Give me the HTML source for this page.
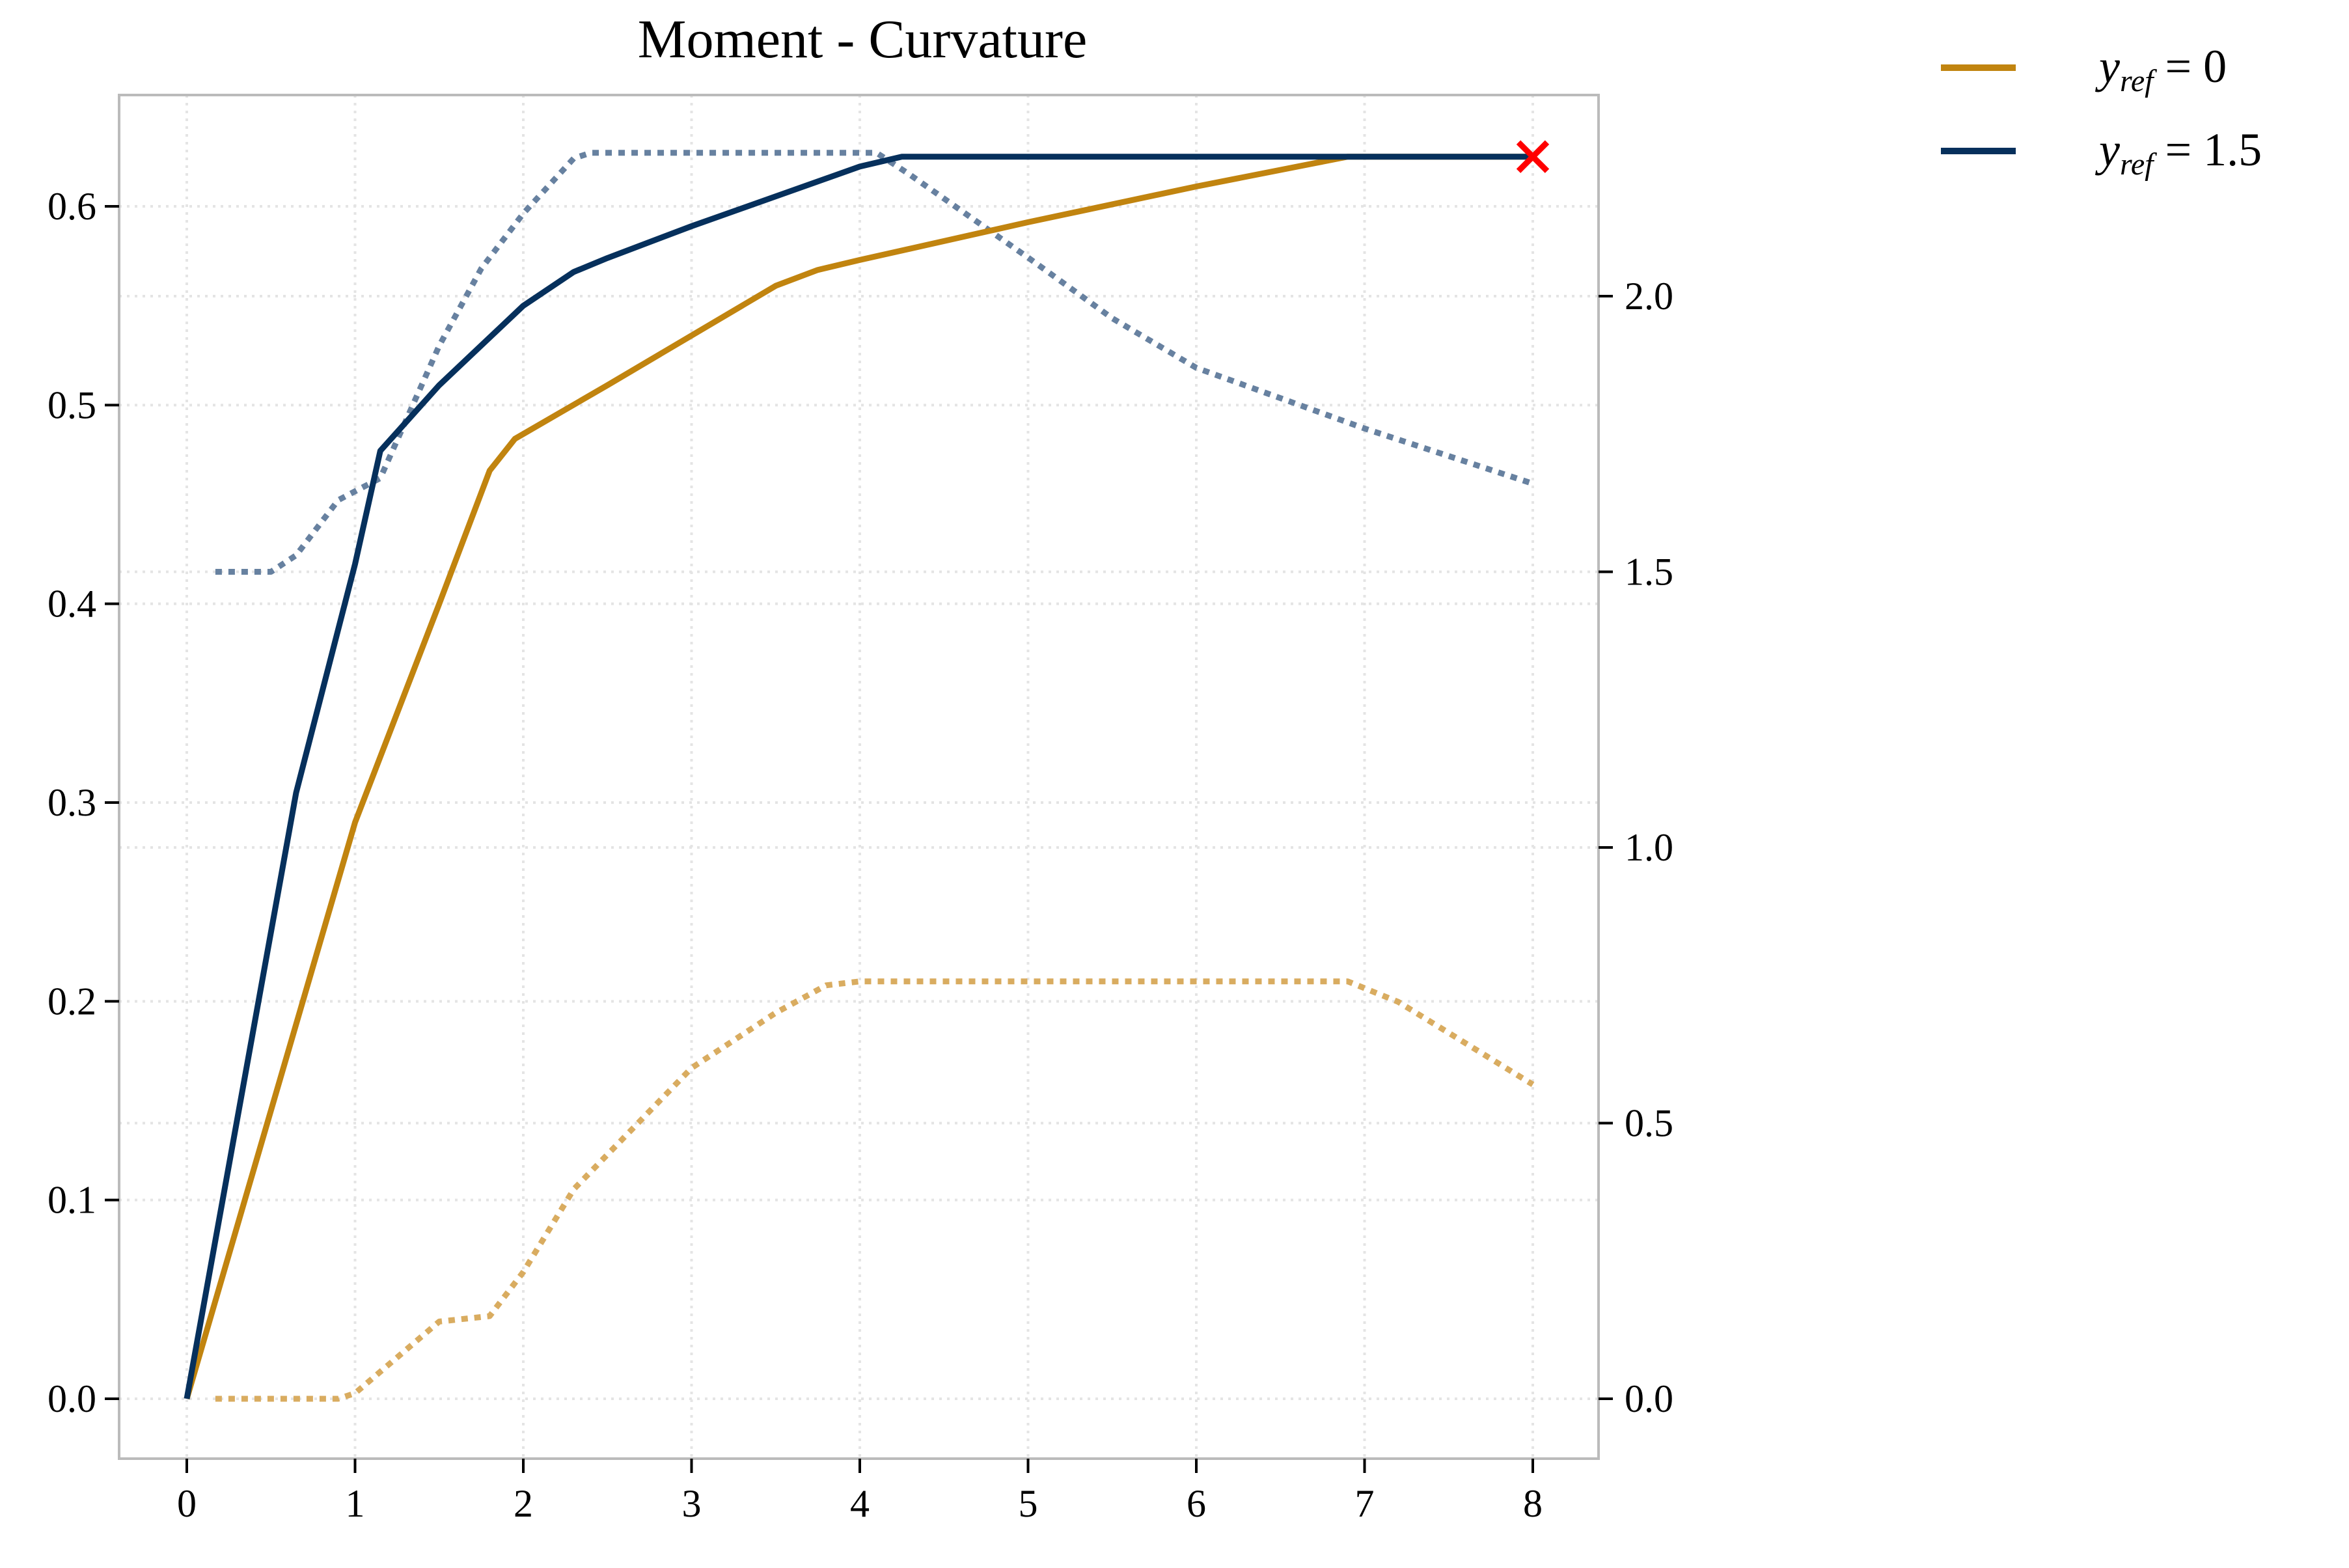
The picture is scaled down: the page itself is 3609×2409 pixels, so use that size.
<!DOCTYPE html>
<html><head><meta charset="utf-8"><style>
html,body{margin:0;padding:0;background:#fff}
svg{display:block;font-family:"Liberation Serif",serif}
</style></head><body>
<svg id="chart" width="3609" height="2409" viewBox="0 0 3609 2409">
<g id="grid"></g>
<g id="series"></g>
<rect x="183" y="146" width="2273" height="2095" fill="none" stroke="#bbb" stroke-width="4"/>
<g id="axes"></g>
<text x="1325" y="88" font-size="84" text-anchor="middle">Moment - Curvature</text>
<g>
<g>
<line x1="2982" y1="104" x2="3097" y2="104" stroke="#c1840f" stroke-width="10"/>
<text x="3225" y="126" font-size="72" font-style="italic">y<tspan font-size="48" dy="14">ref</tspan><tspan dy="-14" font-style="normal"> = 0</tspan></text>
</g>
<g>
<line x1="2982" y1="232" x2="3097" y2="232" stroke="#06305c" stroke-width="10"/>
<text x="3225" y="254" font-size="72" font-style="italic">y<tspan font-size="48" dy="14">ref</tspan><tspan dy="-14" font-style="normal"> = 1.5</tspan></text>
</g>
</g>
</svg>
<script>
const xTicks=[0,1,2,3,4,5,6,7,8];
const yLeftTicks=[0,0.1,0.2,0.3,0.4,0.5,0.6];
const yRightTicks=[0,0.5,1.0,1.5,2.0];
const goldX=[0,1,1.5,1.8,1.95,2.5,3,3.5,3.75,4,5,6,6.9,8];
const goldM=[0,0.29,0.40,0.467,0.483,0.51,0.535,0.56,0.568,0.573,0.592,0.61,0.625,0.625];
const navyX=[0,0.65,1,1.15,1.5,2,2.3,2.5,3,4,4.25,8];
const navyM=[0,0.305,0.42,0.477,0.51,0.55,0.567,0.574,0.59,0.62,0.625,0.625];
const navyDotX=[0.17,0.5,0.65,0.9,1.15,1.5,1.75,2,2.3,2.4,4.1,4.3,5,5.5,6,7,8];
const navyDotY=[1.5,1.5,1.53,1.63,1.67,1.91,2.05,2.15,2.25,2.26,2.26,2.22,2.07,1.96,1.87,1.76,1.66];
const goldDotX=[0.17,0.9,1,1.5,1.8,2,2.3,3,3.5,3.8,4,6.9,7.2,8];
const goldDotY=[0,0,0.01,0.14,0.15,0.23,0.38,0.6,0.7,0.75,0.757,0.757,0.72,0.57];
const endX=[8], endM=[0.625];

const sx=v=>287+v*(2355-287)/8;
const syL=v=>2149-v*(2149-317)/0.6;
const syR=v=>2149-v*(2149-455)/2.0;
const NS="http://www.w3.org/2000/svg";
function mk(tag,attrs,parent){const e=document.createElementNS(NS,tag);for(const k in attrs)e.setAttribute(k,attrs[k]);parent.appendChild(e);return e;}
const grid=document.getElementById('grid'),axes=document.getElementById('axes'),ser=document.getElementById('series');
xTicks.forEach(t=>{
 const g=mk('line',{x1:sx(t),x2:sx(t),y1:146,y2:2241,stroke:'#e4e4e4','stroke-width':4,'stroke-dasharray':'4 8'},grid);
 
 
 const tk=mk('line',{x1:sx(t),x2:sx(t),y1:2241,y2:2263,stroke:'#000','stroke-width':4},axes);
 
 
 const tx=mk('text',{x:sx(t),y:2330,'font-size':60,'text-anchor':'middle'},axes);tx.textContent=String(t);
 
 
});
yLeftTicks.forEach(t=>{
 const g=mk('line',{x1:183,x2:2456,y1:syL(t),y2:syL(t),stroke:'#e4e4e4','stroke-width':4,'stroke-dasharray':'4 8'},grid);
 
 
 const tk=mk('line',{x1:161,x2:183,y1:syL(t),y2:syL(t),stroke:'#000','stroke-width':4},axes);
 
 
 const tx=mk('text',{x:148,y:syL(t)+20,'font-size':60,'text-anchor':'end'},axes);tx.textContent=t.toFixed(1);
 
 
});
yRightTicks.forEach(t=>{
 const g=mk('line',{x1:183,x2:2456,y1:syR(t),y2:syR(t),stroke:'#e4e4e4','stroke-width':4,'stroke-dasharray':'4 8'},grid);
 
 
 const tk=mk('line',{x1:2456,x2:2478,y1:syR(t),y2:syR(t),stroke:'#000','stroke-width':4},axes);
 
 
 const tx=mk('text',{x:2496,y:syR(t)+20,'font-size':60,'text-anchor':'start'},axes);tx.textContent=t.toFixed(1);
 
 
});
function line(xs,ys,sy,color,dash,name){
 const p=xs.map((x,i)=>sx(x).toFixed(1)+','+sy(ys[i]).toFixed(1)).join(' ');
 const a={points:p,fill:'none',stroke:color,'stroke-width':9,'stroke-linejoin':'round'};
 if(dash)a['stroke-dasharray']=dash;
 const e=mk('polyline',a,ser);
 
 
}
line(goldDotX,goldDotY,syR,'#d9ac60','10 10','yref-0-dotted-series');
line(navyDotX,navyDotY,syR,'#6781a0','10 10','yref-1.5-dotted-series');
line(goldX,goldM,syL,'#c1840f',null,'yref-0-moment-line');
line(navyX,navyM,syL,'#06305c',null,'yref-1.5-moment-line');
endX.forEach((x,i)=>{
 const cx=sx(x),cy=syL(endM[i]),r=22;
 const g=mk('path',{d:`M${cx-r},${cy-r}L${cx+r},${cy+r}M${cx-r},${cy+r}L${cx+r},${cy-r}`,stroke:'#ff0000','stroke-width':9,fill:'none'},ser);
 
 
});
</script>
</body></html>
